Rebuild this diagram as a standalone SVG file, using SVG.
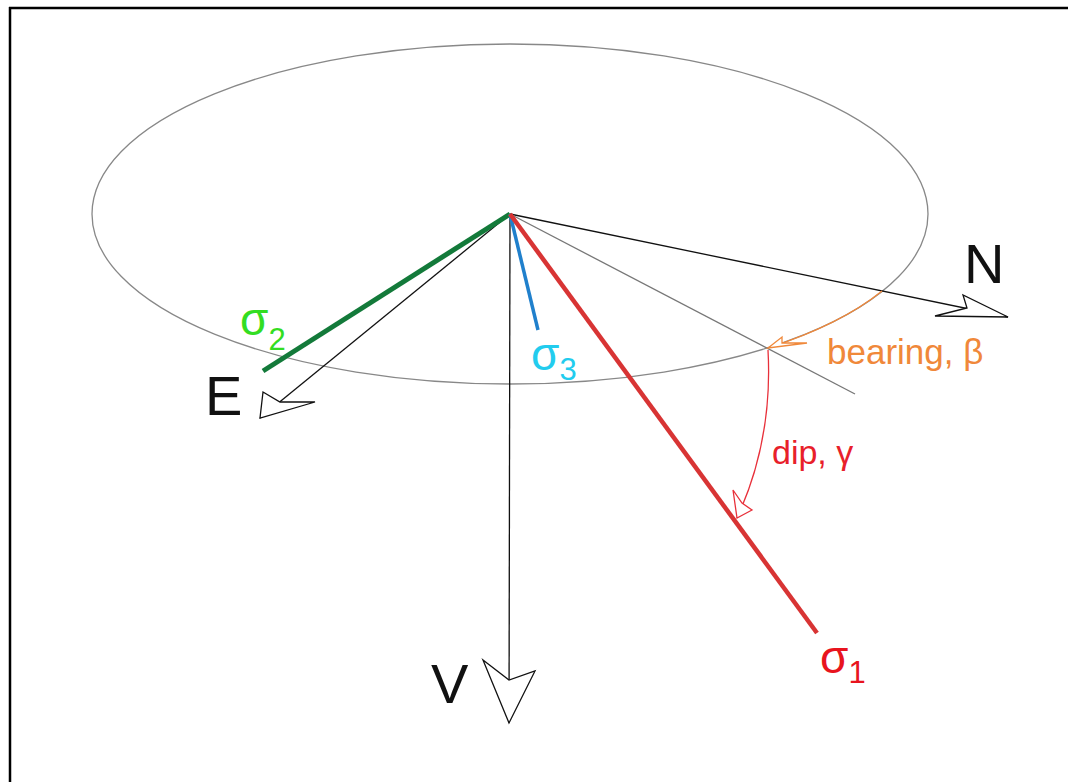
<svg xmlns="http://www.w3.org/2000/svg" width="1068" height="782" viewBox="0 0 1068 782">
<style>
.ax{stroke:#111;stroke-width:1.3;fill:none}
.head{stroke:#111;stroke-width:1.3;fill:#fff;stroke-linejoin:miter}
.lbl{font-family:"Liberation Sans",Arial,sans-serif}
.big{font-size:56px;fill:#111}
.sig{font-size:46px}
.sub{font-size:31px}
</style>
<rect width="1068" height="782" fill="#fff"/>
<g id="frame">
<line x1="9" y1="8" x2="1068" y2="8" stroke="#000" stroke-width="2.5"/>
<line x1="10" y1="7" x2="10" y2="782" stroke="#000" stroke-width="2.5"/>
</g>
<g id="ellipse">
<ellipse cx="510" cy="214" rx="418" ry="170" fill="none" stroke="#888" stroke-width="1.3"/>
</g>
<g id="connectors">
<line class="ax" x1="510" y1="214" x2="1008" y2="317"/>
<line class="ax" x1="510" y1="214" x2="260" y2="418"/>
<line class="ax" x1="510" y1="214" x2="509" y2="723"/>
<line x1="510" y1="214" x2="855" y2="394" stroke="#777" stroke-width="1.3"/>
<line x1="510" y1="214" x2="263" y2="371" stroke="#137a3a" stroke-width="5"/>
<line x1="510" y1="214" x2="538" y2="330" stroke="#2080cc" stroke-width="3.5"/>
<line x1="510" y1="214" x2="817" y2="633" stroke="#d83434" stroke-width="4.5"/>
<path d="M882 291 A418 170 0 0 1 768 348" fill="none" stroke="#f0883a" stroke-width="1.3"/>
<path d="M768 350 Q773 440 737 518" fill="none" stroke="#e8303a" stroke-width="1.3"/>
<polygon class="head" points="1008,317 963,295 967,308 935,316"/>
<polygon class="head" points="260,418 263,392 280,402 315,402"/>
<polygon class="head" points="509,723 483,660 509,680 535,671"/>
<polygon points="768,348 782,337 782,343 807,343" fill="#fff" stroke="#f0883a" stroke-width="1.3"/>
<polygon points="737,518 733,490 742,503 752,510" fill="#fff" stroke="#e8303a" stroke-width="1.3"/>
</g>
<g id="N"><text class="lbl big" x="964" y="283">N</text></g>
<g id="E"><text class="lbl big" x="205" y="415">E</text></g>
<g id="V"><text class="lbl big" x="431" y="703">V</text></g>
<g id="sigma1"><text class="lbl" x="820" y="673" fill="#e8141e"><tspan class="sig">σ</tspan><tspan class="sub" dy="10">1</tspan></text></g>
<g id="sigma2"><text class="lbl" x="240" y="335" fill="#33dd22"><tspan class="sig">σ</tspan><tspan class="sub" dy="15">2</tspan></text></g>
<g id="sigma3"><text class="lbl" x="531" y="370" fill="#22ccee"><tspan class="sig">σ</tspan><tspan class="sub" dy="10">3</tspan></text></g>
<g id="bearing"><text class="lbl" x="827" y="364" font-size="35" fill="#f0883a">bearing, β</text></g>
<g id="dip"><text class="lbl" x="772" y="464" font-size="34" fill="#e8202a">dip, γ</text></g>
</svg>
